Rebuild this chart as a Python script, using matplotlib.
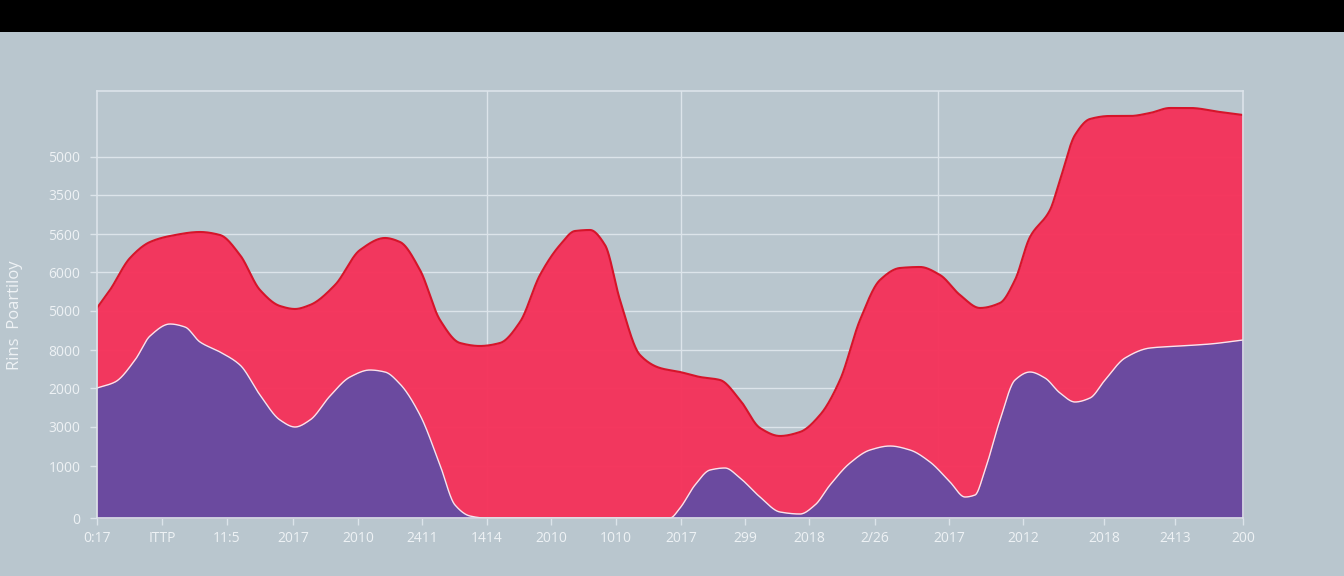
import numpy as np
import matplotlib
matplotlib.use("Agg")
import matplotlib.pyplot as plt
from matplotlib.patches import Rectangle

# ---- data ----
red_x = [0, 13, 33, 53, 73, 103, 123, 143, 163, 183, 198, 213, 238, 263, 288, 303, 323,
         343, 363, 383, 403, 423, 443, 463, 478, 493, 508, 523, 543, 563, 583, 603, 623,
         643, 663, 683, 703, 723, 743, 763, 783, 803, 823, 843, 863, 883, 903, 918, 933,
         953, 963, 978, 993, 1013, 1033, 1053, 1073, 1093, 1123, 1146]
red_y = [2100, 2280, 2600, 2760, 2820, 2860, 2830, 2630, 2280, 2120, 2090, 2130, 2330,
         2680, 2800, 2760, 2480, 1980, 1750, 1720, 1750, 1960, 2430, 2730, 2870, 2880,
         2730, 2180, 1630, 1500, 1460, 1410, 1380, 1180, 900, 820, 860, 1030, 1380, 1980,
         2380, 2500, 2510, 2430, 2230, 2100, 2150, 2380, 2810, 3080, 3380, 3830, 3990,
         4020, 4020, 4050, 4100, 4100, 4060, 4030]

pur_x = [0, 18, 38, 53, 73, 88, 103, 123, 143, 163, 183, 198, 213, 233, 253, 273, 288,
         303, 323, 343, 358, 373, 388, 573, 583, 598, 613, 628, 643, 663, 683, 703, 718,
         733, 753, 773, 793, 813, 833, 853, 868, 878, 888, 903, 918, 933, 948, 963, 978,
         993, 1008, 1028, 1053, 1083, 1113, 1146]
pur_y = [1300, 1360, 1580, 1820, 1940, 1910, 1760, 1660, 1530, 1230, 980, 910, 980,
         1220, 1410, 1480, 1460, 1340, 1030, 530, 130, 20, 0, 0, 100, 330, 480, 500, 400,
         210, 60, 40, 130, 330, 550, 680, 720, 680, 560, 360, 210, 230, 480, 980, 1380,
         1460, 1400, 1250, 1160, 1200, 1380, 1600, 1700, 1720, 1740, 1780]

y_ticks = [0, 520, 910, 1300, 1680, 2070, 2460, 2840, 3230, 3610]
y_labels = ["0", "1000", "3000", "2000", "8000", "5000", "6000", "5600", "3500", "5000"]

x_ticks = [0, 65, 130, 196, 261, 325, 390, 454, 519, 584, 648, 712, 778, 852, 926,
           1007, 1078, 1146]
x_labels = ["0:17", "ITTP", "11:5", "2017", "2010", "2411", "1414", "2010", "1010",
            "2017", "299", "2018", "2/26", "2017", "2012", "2018", "2413", "200"]

v_grid = [390, 584, 841]
y_title = "Rins  Poartiloy"


def smooth(xs, ys, n=2000):
    """Monotone cubic (Fritsch-Carlson) curve through the read points, for drawing."""
    x = np.asarray(xs, float)
    y = np.asarray(ys, float)
    h = np.diff(x)
    d = np.diff(y) / h
    m = np.zeros_like(y)
    m[0], m[-1] = d[0], d[-1]
    for i in range(1, len(y) - 1):
        if d[i - 1] * d[i] > 0:
            w1 = 2 * h[i] + h[i - 1]
            w2 = h[i] + 2 * h[i - 1]
            m[i] = (w1 + w2) / (w1 / d[i - 1] + w2 / d[i])
    xx = np.linspace(x[0], x[-1], n)
    k = np.clip(np.searchsorted(x, xx) - 1, 0, len(x) - 2)
    t = (xx - x[k]) / h[k]
    h00 = 2 * t**3 - 3 * t**2 + 1
    h10 = t**3 - 2 * t**2 + t
    h01 = -2 * t**3 + 3 * t**2
    h11 = t**3 - t**2
    yy = h00 * y[k] + h10 * h[k] * m[k] + h01 * y[k + 1] + h11 * h[k] * m[k + 1]
    return xx, np.maximum(yy, 0)


# ---- style ----
bg = "#b9c6ce"
txt = "#eef2f5"
grid_c = "#dce4ea"
red = "#f5325a"
red_edge = "#d6142a"
purple = "#6b4a9f"

plt.rcParams["font.family"] = ["Open Sans", "DejaVu Sans"]

fig = plt.figure(figsize=(13.44, 5.76), dpi=100, facecolor=bg)
fig.patches.append(Rectangle((0, 1 - 32 / 576), 1, 32 / 576, transform=fig.transFigure,
                             facecolor="black", edgecolor="none", zorder=0))

ax = fig.add_axes([97 / 1344, 58 / 576, 1146 / 1344, 427 / 576])
ax.set_facecolor(bg)
ax.set_xlim(0, 1146)
ax.set_ylim(0, 4270)

for y in y_ticks[1:]:
    ax.axhline(y, color=grid_c, lw=1, zorder=1)
for x in v_grid:
    ax.axvline(x, color=grid_c, lw=1, zorder=1)

rx, ry = smooth(red_x, red_y)
px, py = smooth(pur_x, pur_y)

ax.fill_between(rx, 0, ry, color=red, alpha=0.97, lw=0, zorder=2)
ax.plot(rx, ry, color=red_edge, lw=1.5, zorder=3)
ax.fill_between(px, 0, py, color=purple, lw=0, zorder=4)
ax.plot(px, py, color="#f6e4ee", lw=1.0, zorder=5)

for s in ["left", "bottom", "top", "right"]:
    ax.spines[s].set_color(grid_c)
    ax.spines[s].set_linewidth(1.2)
    ax.spines[s].set_zorder(6)

ax.set_yticks(y_ticks)
ax.set_yticklabels(y_labels)
ax.set_xticks(x_ticks)
ax.set_xticklabels(x_labels)
ax.tick_params(axis="both", colors=grid_c, labelcolor=txt, labelsize=10, length=5,
               width=1)
ax.tick_params(axis="y", pad=7)
ax.tick_params(axis="x", pad=4)

fig.text(15 / 1344, 1 - 315 / 576, y_title, rotation=90, color=txt, fontsize=12,
         ha="center", va="center")

fig.savefig("out.png", dpi=100, facecolor=bg)
